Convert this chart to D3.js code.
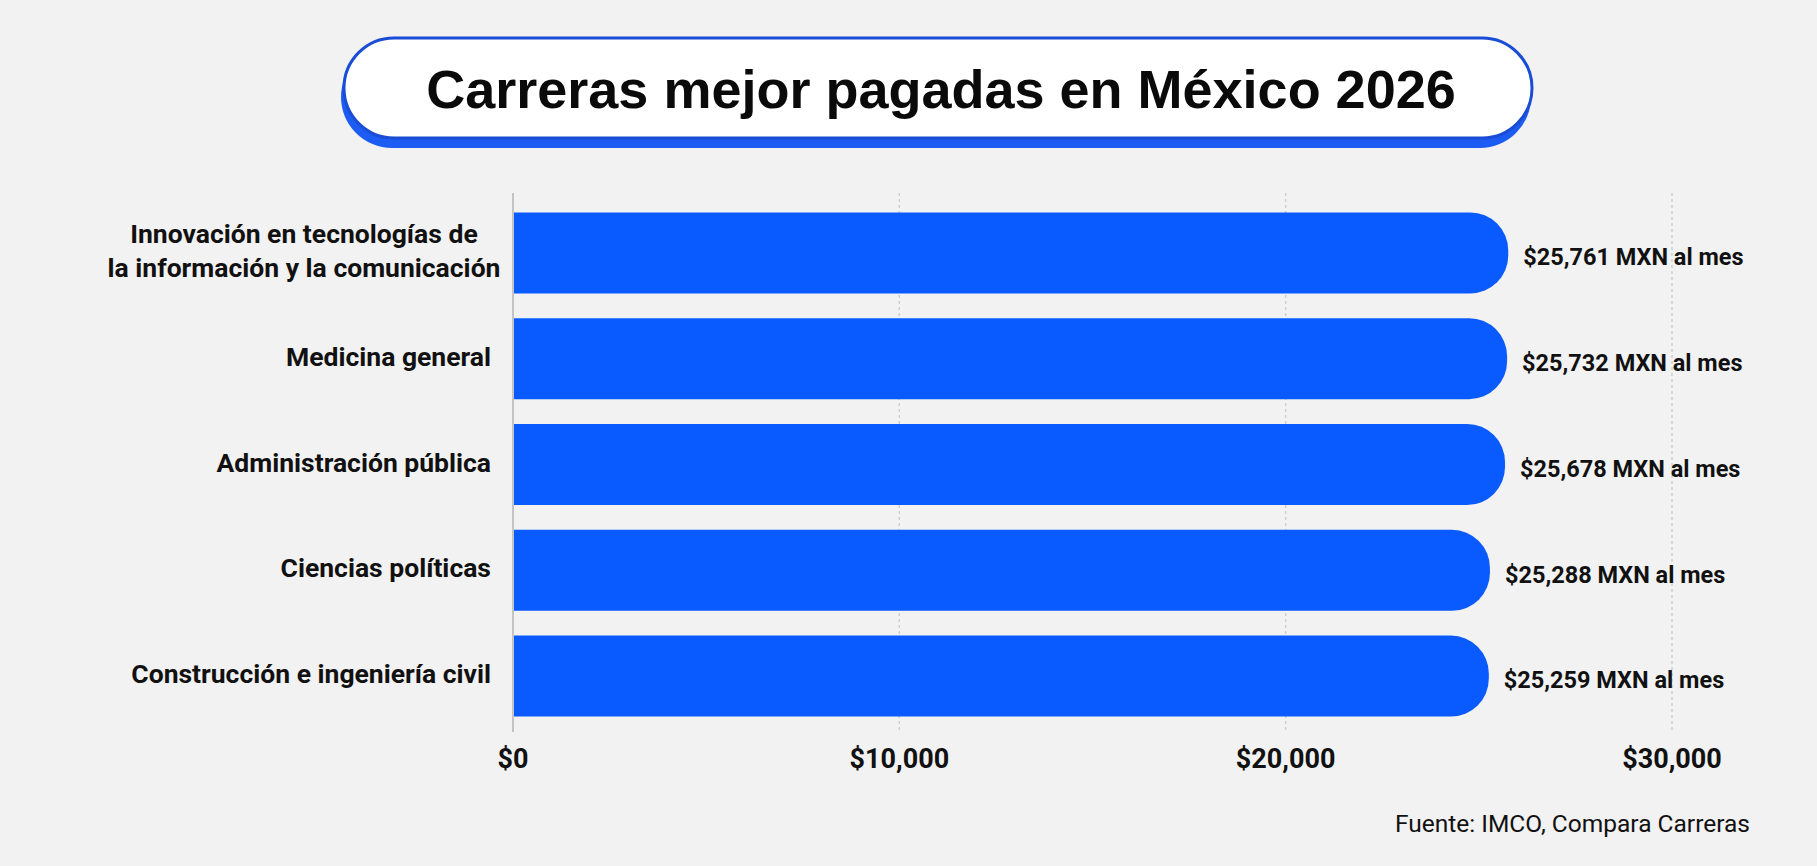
<!DOCTYPE html>
<html lang="es">
  <head>
    <meta charset="UTF-8" />
    <title>Carreras mejor pagadas en México 2026</title>
    <script src="https://cdn.jsdelivr.net/npm/d3@7"></script>
    <style>
      body {
        margin: 0;
        background: #f2f2f2;
      }
      svg {
        display: block;
      }
    </style>
  </head>
  <body>
    <svg></svg>
    <script>
      // data
      const categories = [
        "Innovación en tecnologías de\nla información y la comunicación",
        "Medicina general",
        "Administración pública",
        "Ciencias políticas",
        "Construcción e ingeniería civil",
      ];
      const salaries = [25761, 25732, 25678, 25288, 25259];
      const ticks = [0, 10000, 20000, 30000];
      const title = "Carreras mejor pagadas en México 2026";
      const source = "Fuente: IMCO, Compara Carreras";

      const width = 1817;
      const height = 866;
      const blue = "#0a5bff";

      const svg = d3.select("svg").attr("width", width).attr("height", height);

      const x = d3.scaleLinear().domain([0, 30000]).range([513, 1672]);
      const y = d3
        .scaleBand()
        .domain(categories)
        .range([200, 729])
        .paddingInner(0.234)
        .paddingOuter(0.117);

      const rows = categories.map((c, i) => ({ cat: c, value: salaries[i] }));
      const fmt = d3.format(",");

      // title pill
      const pill = svg.append("g");
      pill
        .append("rect")
        .attr("x", 341)
        .attr("y", 46)
        .attr("width", 1190)
        .attr("height", 102)
        .attr("rx", 51)
        .attr("fill", "#1d5cf2");
      pill
        .append("rect")
        .attr("x", 344)
        .attr("y", 38)
        .attr("width", 1188)
        .attr("height", 100)
        .attr("rx", 50)
        .attr("fill", "#ffffff")
        .attr("stroke", "#1a4dd6")
        .attr("stroke-width", 3);
      pill
        .append("text")
        .attr("x", 941)
        .attr("y", 108)
        .attr("text-anchor", "middle")
        .attr("font-family", "'Liberation Sans', Arial, sans-serif")
        .attr("font-weight", 700)
        .attr("font-size", 54)
        .attr("fill", "#0a0a0a")
        .text(title);

      // gridlines
      svg
        .append("g")
        .selectAll("line")
        .data(ticks.slice(1))
        .join("line")
        .attr("x1", (d) => x(d))
        .attr("x2", (d) => x(d))
        .attr("y1", 193)
        .attr("y2", 732)
        .attr("stroke", "#cfcfcf")
        .attr("stroke-width", 1.5)
        .attr("stroke-dasharray", "3,3");

      // bars: square left, rounded right end
      const r = 38;
      svg
        .append("g")
        .selectAll("path")
        .data(rows)
        .join("path")
        .attr("fill", blue)
        .attr("d", (d) => {
          const x0 = x(0),
            x1 = x(d.value),
            y0 = y(d.cat),
            h = y.bandwidth();
          return `M${x0},${y0}H${x1 - r}A${r},${r} 0 0 1 ${x1},${y0 + r}V${y0 + h - r}A${r},${r} 0 0 1 ${x1 - r},${y0 + h}H${x0}Z`;
        });

      // zero axis line
      svg
        .append("line")
        .attr("x1", x(0))
        .attr("x2", x(0))
        .attr("y1", 193)
        .attr("y2", 732)
        .attr("stroke", "#c4c4c4")
        .attr("stroke-width", 2);

      // category labels
      const labels = svg
        .append("g")
        .attr("font-family", "Roboto, sans-serif")
        .attr("font-weight", 700)
        .attr("font-size", 26.5)
        .attr("fill", "#111")
        .selectAll("text")
        .data(rows)
        .join("text")
        .attr("y", (d) => y(d.cat) + y.bandwidth() / 2);
      labels.each(function (d) {
        const lines = d.cat.split("\n");
        const t = d3.select(this);
        const multi = lines.length > 1;
        lines.forEach((ln, i) => {
          t.append("tspan")
            .attr("x", multi ? 304 : 491)
            .attr("text-anchor", multi ? "middle" : "end")
            .attr("dy", i === 0 ? (0.35 - ((lines.length - 1) * 1.25) / 2 - 0.08) + "em" : "1.25em")
            .text(ln);
        });
      });

      // value labels
      svg
        .append("g")
        .attr("font-family", "Roboto, sans-serif")
        .attr("font-weight", 700)
        .attr("font-size", 23.5)
        .attr("fill", "#111")
        .selectAll("text")
        .data(rows)
        .join("text")
        .attr("x", (d) => x(d.value) + 15)
        .attr("y", (d) => y(d.cat) + y.bandwidth() / 2 + 4)
        .attr("dy", "0.35em")
        .text((d) => "$" + fmt(d.value) + " MXN al mes");

      // x tick labels
      svg
        .append("g")
        .attr("font-family", "Roboto, sans-serif")
        .attr("font-weight", 700)
        .attr("font-size", 27)
        .attr("fill", "#111")
        .attr("text-anchor", "middle")
        .selectAll("text")
        .data(ticks)
        .join("text")
        .attr("x", (d) => x(d))
        .attr("y", 759)
        .attr("dy", "0.35em")
        .text((d) => "$" + fmt(d));

      // source
      svg
        .append("text")
        .attr("x", 1750)
        .attr("y", 832)
        .attr("text-anchor", "end")
        .attr("font-family", "Roboto, sans-serif")
        .attr("font-size", 24.5)
        .attr("fill", "#111")
        .text(source);
    </script>
  </body>
</html>
